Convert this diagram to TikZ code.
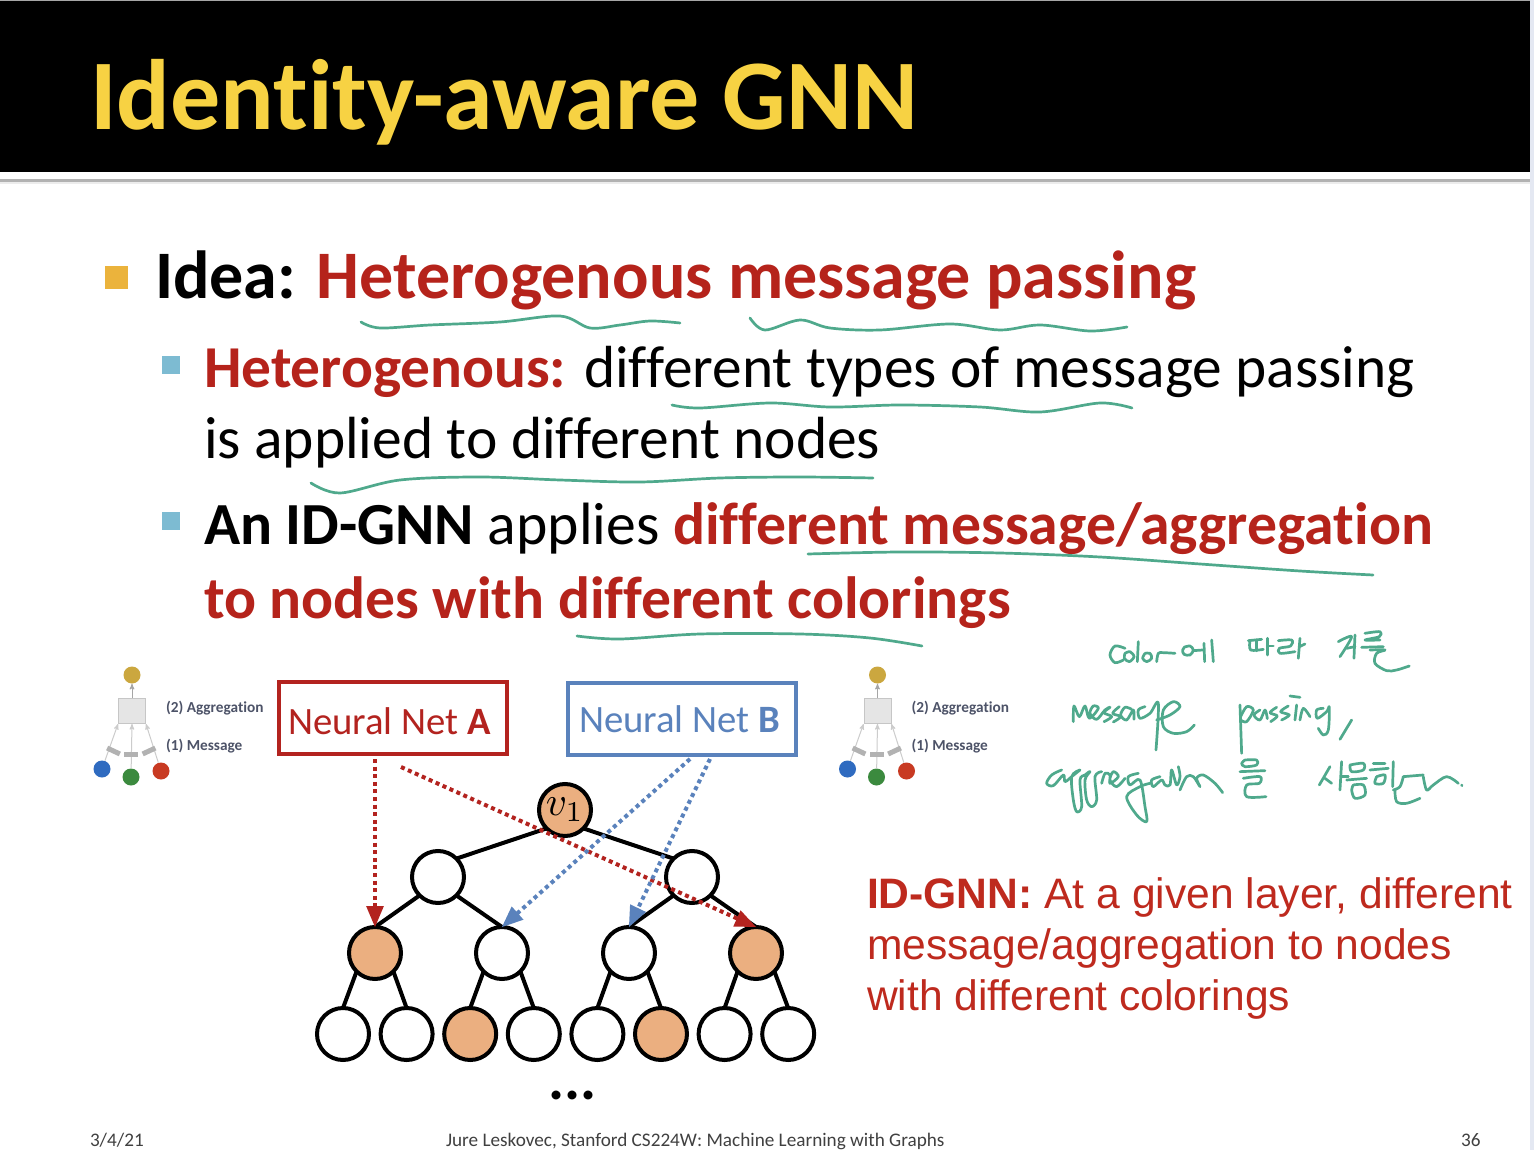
\documentclass[tikz,border=0pt]{standalone}
\usepackage{graphicx}
\usepackage{fontspec}
\setmainfont[Ligatures=NoCommon]{Carlito}
\newfontfamily\arialfont{Liberation Sans}
\usepackage{tikz}
\usetikzlibrary{arrows,automata}
\definecolor{slidered}{HTML}{B5231B}
\definecolor{gnnred}{HTML}{BE2A1E}
\definecolor{gold}{HTML}{F7D243}
\definecolor{netblue}{HTML}{5A82BC}
\definecolor{netred}{HTML}{B3231F}
\definecolor{peach}{HTML}{EBAF80}
\definecolor{pen}{HTML}{4FA98C}
\definecolor{iconink}{HTML}{4D5368}
\definecolor{bulletgold}{HTML}{EBB33C}
\definecolor{bulletblue}{HTML}{7DBBD2}
\definecolor{edgeblue}{HTML}{E4E8F2}
\definecolor{icongold}{HTML}{CBA73F}
\definecolor{iconblue}{HTML}{2F6BC0}
\definecolor{icongreen}{HTML}{3B8A3E}
\definecolor{iconred}{HTML}{C83A22}
\newcommand{\sz}[1]{\fontsize{#1}{#1}\selectfont}
\newcommand{\penline}[1]{\draw[stroke] plot[smooth,tension=0.55] coordinates {#1};}
\tikzset{
	txt/.style={anchor=base west,inner sep=0pt,outer sep=0pt},
	bullet/.style={inner sep=0pt,minimum size=#1,fill=bulletblue},
	netbox/.style={draw,line width=3.5pt,minimum width=228pt,minimum height=72pt,inner sep=0pt,fill=white},
	nnarrow/.style={-triangle 45,line width=4pt,dash pattern=on 4pt off 3.6pt},
	stroke/.style={draw=pen,line width=2.7pt,line cap=round,line join=round},
	iconlbl/.style={txt,font=\sz{15.3}\bfseries,text=iconink}
}
\begin{document}
\begin{tikzpicture}[x=1pt,y=-1pt,semithick,node distance=63.6pt]
	\tikzstyle{every state}=[fill=white,draw=black,text=black,line width=4pt,minimum size=52pt,inner sep=0pt,outer sep=0pt]
	\useasboundingbox (0,0) rectangle (1534,1150);
	\fill[white] (0,0) rectangle (1534,1150);
	\fill[black] (0,0) rectangle (1530,172);
	\fill[gray!70] (0,0) rectangle (1530,1.5);
	\fill[gray!60] (0,179.5) rectangle (1530,182.5);
	\fill[gray!15] (0,182.5) rectangle (1530,184);
	\fill[edgeblue] (1530,0) rectangle (1534,1150);

	\node[txt,text=gold,font=\sz{100}\bfseries] (title) at (90,130) {Identity-aware GNN};

	\node[bullet=23pt,fill=bulletgold] (b1) at (116,278) {};
	\node[txt,font=\sz{68}\bfseries] (idea) at (155,299) {Idea: \textcolor{slidered}{Heterogenous message passing}};
	\node[bullet=18pt] (b2) at (171,365) {};
	\node[txt,font=\sz{59.4}] (het) at (204,387) {\textcolor{slidered}{\bfseries Heterogenous:} different types of message passing};
	\node[txt,font=\sz{59.5}] (het2) at (204,458) {is applied to different nodes};
	\node[bullet=18pt] (b3) at (171,521) {};
	\node[txt,font=\sz{59.7}] (idgnn) at (204,544) {\textbf{An ID-GNN} applies \textcolor{slidered}{\bfseries different message/aggregation}};
	\node[txt,font=\sz{59.6}\bfseries,text=slidered] (idgnn2) at (204,618) {to nodes with different colorings};

	% small message/aggregation icons
	\foreach \ox/\nm in {0/a,745.5/b}{
		\begin{scope}[xshift=\ox pt]
			\node[circle,fill=icongold,minimum size=17pt,inner sep=0pt] (top\nm) at (132,675) {};
			\node[fill=gray!20,draw=gray!45,line width=1pt,minimum width=27pt,minimum height=25pt,inner sep=0pt] (agg\nm) at (132,711) {};
			\node[circle,fill=iconblue,minimum size=17pt,inner sep=0pt] (blue\nm) at (102,769) {};
			\node[circle,fill=icongreen,minimum size=17pt,inner sep=0pt] (green\nm) at (131,777) {};
			\node[circle,fill=iconred,minimum size=17pt,inner sep=0pt] (red\nm) at (161,771) {};
			\draw[gray!70,line width=1pt,-stealth'] (agg\nm) -- (top\nm);
			\draw[gray!40,line width=1pt,-stealth'] (blue\nm) -- (agg\nm.south west);
			\draw[gray!40,line width=1pt,-stealth'] (green\nm) -- (agg\nm.south);
			\draw[gray!40,line width=1pt,-stealth'] (red\nm) -- (agg\nm.south east);
			\node[fill=gray!60,minimum width=14pt,minimum height=5pt,inner sep=0pt,rotate=-25] (m1\nm) at (113.5,751) {};
			\node[fill=gray!60,minimum width=14pt,minimum height=5pt,inner sep=0pt] (m2\nm) at (131,754) {};
			\node[fill=gray!60,minimum width=14pt,minimum height=5pt,inner sep=0pt,rotate=25] (m3\nm) at (149,751) {};
			\node[iconlbl] (lagg\nm) at (166,712) {(2) Aggregation};
			\node[iconlbl] (lmsg\nm) at (166,750) {(1) Message};
		\end{scope}
	}

	\node[netbox,draw=netred] (neta) at (393,718) {};
	\node[txt,font=\sz{38.7},text=netred] (lneta) at (288,734) {Neural Net \textbf{A}};
	\node[netbox,draw=netblue] (netb) at (682,719) {};
	\node[txt,font=\sz{38.7},text=netblue] (lnetb) at (579,732) {Neural Net \textbf{B}};

	\node[state,fill=peach] (v1) at (565,810) {\scalebox{4.1}{$v_1$}};
	\node[state] (c1) at (438,877) {};
	\node[state] (c2) at (692,877) {};
	\node[state,fill=peach] (g1) at (375,953) {};
	\node[state] (g2) at (502,953) {};
	\node[state] (g3) at (629,953) {};
	\node[state,fill=peach] (g4) at (756,953) {};
	\node[state] (l1) at (343,1034) {};
	\node[state] (l2) [right of=l1] {};
	\node[state,fill=peach] (l3) [right of=l2] {};
	\node[state] (l4) [right of=l3] {};
	\node[state] (l5) [right of=l4] {};
	\node[state,fill=peach] (l6) [right of=l5] {};
	\node[state] (l7) [right of=l6] {};
	\node[state] (l8) [right of=l7] {};

	\path[draw,line width=4pt]
	(v1.south west) edge (c1.north east)
	(v1.south east) edge (c2.north west)
	(c1.south west) edge (g1.north)
	(c1.south east) edge (g2.north)
	(c2.south west) edge (g3.north)
	(c2.south east) edge (g4.north)
	(g1.south west) edge (l1.north)
	(g1.south east) edge (l2.north)
	(g2.south west) edge (l3.north)
	(g2.south east) edge (l4.north)
	(g3.south west) edge (l5.north)
	(g3.south east) edge (l6.north)
	(g4.south west) edge (l7.north)
	(g4.south east) edge (l8.north);

	\coordinate (ra) at (375,759);
	\coordinate (rb) at (401,767);
	\coordinate (ba) at (690,759);
	\coordinate (bb) at (710,759);
	\draw[nnarrow,netred] (ra) -- (g1.north);
	\draw[nnarrow,netred] (rb) -- (g4.north);
	\draw[nnarrow,netblue] (ba) -- (g2.north);
	\draw[nnarrow,netblue] (bb) -- (g3.north);

	\node[txt,font=\sz{60}\bfseries] (dots) at (548,1099) {...};

	\node[txt,font=\arialfont\sz{42.6},text=gnnred] (n1) at (867,908) {\textbf{ID-GNN:} At a given layer, different};
	\node[txt,font=\arialfont\sz{42.6},text=gnnred] (n2) at (867,959) {message/aggregation to nodes};
	\node[txt,font=\arialfont\sz{42.6},text=gnnred] (n3) at (867,1010) {with different colorings};

	\node[txt,font=\sz{19.2},text=black!75] (fdate) at (90,1146) {3/4/21};
	\node[txt,font=\sz{19.2},text=black!75] (ftext) at (446,1146) {Jure Leskovec, Stanford CS224W: Machine Learning with Graphs};
	\node[txt,font=\sz{19.2},text=black!75] (fpage) at (1461,1146) {36};

	% pen underlines
	\penline{(361,322)(380,328)(430,325)(500,322)(560,316)(590,328)(620,325)(650,321)(680,323)}
	\penline{(750,318)(765,330)(800,320)(830,328)(880,330)(950,324)(1000,330)(1040,325)(1090,331)(1127,327)}
	\penline{(672,405)(700,408)(770,403)(830,407)(900,405)(980,407)(1040,412)(1100,403)(1132,408)}
	\penline{(311,483)(340,493)(400,480)(480,477)(560,480)(640,482)(720,478)(800,477)(873,478)}
	\penline{(808,554)(900,552)(1000,553)(1100,557)(1200,564)(1300,571)(1373,575)}
	\penline{(577,636)(620,639)(700,634)(800,634)(870,638)(922,646)}

	% pen handwriting
	\begin{scope}[shift={(1030,620)},x=0.3333pt,y=-0.3333pt]
		\penline{(285,85)(255,78)(240,105)(255,128)(280,120)}
		\penline{(285,100)(300,95)(312,110)(298,125)(283,115)(285,100)}
		\penline{(325,65)(322,125)}
		\penline{(345,100)(360,100)(365,115)(350,125)(338,115)(345,100)}
		\penline{(380,125)(385,100)(400,98)(435,100)}
		\penline{(462,82)(480,78)(490,90)(480,105)(462,103)(458,90)(465,80)}
		\penline{(490,92)(518,90)}
		\penline{(522,70)(524,125)}
		\penline{(545,60)(550,125)}
		\penline{(655,62)(695,58)}
		\penline{(660,62)(662,90)(700,88)}
		\penline{(680,60)(680,92)}
		\penline{(712,55)(712,105)}
		\penline{(712,78)(730,78)}
		\penline{(745,62)(785,60)(782,78)(748,85)(750,100)(795,95)}
		\penline{(810,55)(805,115)}
		\penline{(808,80)(825,72)}
		\penline{(925,65)(965,50)(930,110)}
		\penline{(950,85)(975,80)}
		\penline{(975,45)(972,115)}
		\penline{(1005,40)(1050,35)(1048,50)(1005,60)(1050,60)}
		\penline{(995,82)(1060,80)}
		\penline{(1020,90)(1065,90)(1040,100)(1035,130)(1070,152)(1100,150)(1138,138)}
		\penline{(130,305)(132,258)(148,290)(165,258)(178,295)(205,265)(190,258)(180,280)(200,298)(225,270)(240,262)(222,278)(245,290)(222,305)}
		\penline{(268,260)(248,280)(272,290)(250,306)}
		\penline{(305,268)(285,262)(272,285)(290,300)(310,270)(312,298)}
		\penline{(345,260)(325,270)(330,295)(360,280)(385,250)(378,390)}
		\penline{(380,300)(420,285)(450,260)(430,245)(400,270)(400,320)(430,340)(470,335)(493,315)}
		\penline{(630,255)(635,400)}
		\penline{(632,290)(650,260)(670,270)(650,305)(632,300)}
		\penline{(690,270)(672,285)(690,300)(705,270)(712,296)}
		\penline{(740,262)(720,278)(742,288)(722,305)}
		\penline{(775,258)(752,275)(778,285)(755,300)}
		\penline{(800,255)(795,300)}
		\penline{(780,228)(810,232)}
		\penline{(810,300)(820,265)(840,290)}
		\penline{(880,265)(860,270)(862,295)(890,275)(898,262)(895,330)(880,345)(865,325)}
		\penline{(965,300)(930,358)}
		\penline{(95,450)(65,465)(50,490)(70,497)(100,465)(105,485)(125,470)(150,450)(125,470)(130,540)(140,575)(155,560)(150,480)(165,465)(180,455)(165,480)(170,540)(185,560)(200,540)(195,470)(215,455)}
		\penline{(215,490)(225,460)(240,465)(240,490)(265,470)(250,455)(240,480)(260,500)(285,475)}
		\penline{(325,460)(295,470)(300,495)(330,480)(345,560)(350,605)(320,585)(290,530)(330,500)(360,490)}
		\penline{(390,470)(365,480)(370,500)(395,480)(405,495)(420,495)(425,450)(440,495)(450,470)(445,440)}
		\penline{(450,510)(470,470)(490,470)(510,500)(500,475)(520,465)(555,490)(578,518)}
		\penline{(645,420)(680,420)(680,435)(645,440)(635,430)(645,420)}
		\penline{(630,455)(705,452)}
		\penline{(640,475)(690,470)(688,490)(650,495)(650,530)(708,530)}
		\penline{(900,440)(868,495)}
		\penline{(885,475)(905,490)}
		\penline{(935,425)(930,510)}
		\penline{(935,470)(955,470)}
		\penline{(960,435)(1000,430)(1000,450)(965,455)(960,435)}
		\penline{(950,480)(1010,475)}
		\penline{(970,495)(1000,495)(1005,525)(975,535)(965,510)(970,495)}
		\penline{(1030,430)(1065,430)}
		\penline{(1020,450)(1075,445)}
		\penline{(1040,470)(1065,465)(1060,490)(1035,490)(1040,470)}
		\penline{(1090,425)(1088,500)}
		\penline{(1120,470)(1180,465)}
		\penline{(1120,470)(1110,500)(1090,510)}
		\penline{(1095,510)(1100,545)(1130,550)(1170,535)}
		\penline{(1180,470)(1190,510)(1210,495)(1250,470)(1285,490)}
		\penline{(1295,495)(1296,497)}
	\end{scope}
\end{tikzpicture}
\end{document}
